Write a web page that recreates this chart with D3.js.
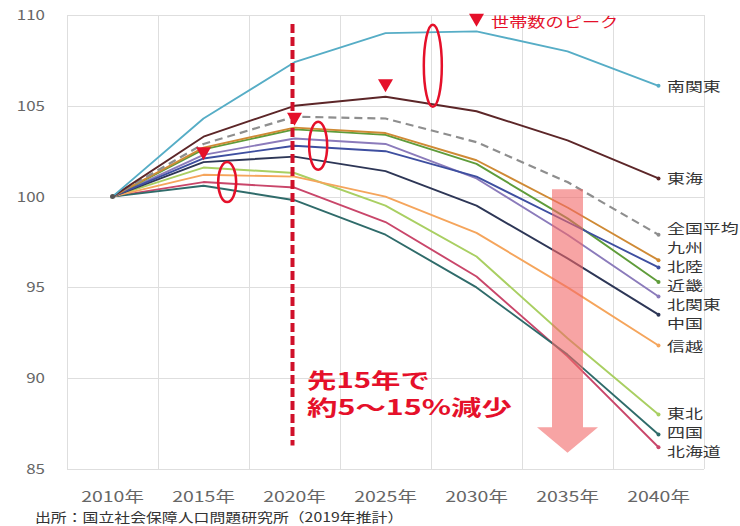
<!DOCTYPE html>
<html>
<head>
<meta charset="utf-8">
<script src="https://cdn.jsdelivr.net/npm/d3@7"></script>
<style>
  html, body { margin: 0; padding: 0; background: #fff; }
  svg { display: block; font-family: "Noto Sans CJK JP", "Noto Sans", sans-serif; }
</style>
</head>
<body>
<svg id="chart" width="740" height="526"></svg>
<script>
  // data (index, 2010 = 100)
  const years = [2010, 2015, 2020, 2025, 2030, 2035, 2040];
  const yearLabels = ["2010年", "2015年", "2020年", "2025年", "2030年", "2035年", "2040年"];
  const yTicks = [85, 90, 95, 100, 105, 110];

  const regions = ["南関東", "東海", "全国平均", "九州", "北陸", "近畿", "北関東", "中国", "信越", "東北", "四国", "北海道"];
  const minamiKanto = [100, 104.3, 107.4, 109.0, 109.1, 108.0, 106.1];
  const tokai       = [100, 103.3, 105.0, 105.5, 104.7, 103.1, 101.0];
  const zenkoku     = [100, 102.9, 104.4, 104.3, 103.0, 100.8, 97.9];
  const kyushu      = [100, 102.7, 103.8, 103.5, 102.0, 99.4, 96.5];
  const hokuriku    = [100, 102.1, 102.8, 102.5, 101.1, 98.6, 96.1];
  const kinki       = [100, 102.6, 103.7, 103.4, 101.8, 98.8, 95.3];
  const kitaKanto   = [100, 102.3, 103.2, 102.9, 101.0, 97.9, 94.5];
  const chugoku     = [100, 101.9, 102.2, 101.4, 99.5, 96.6, 93.5];
  const shinetsu    = [100, 101.2, 101.1, 100.0, 98.0, 95.0, 91.8];
  const tohoku      = [100, 101.6, 101.3, 99.5, 96.7, 92.2, 88.0];
  const shikoku     = [100, 100.6, 99.8, 97.9, 95.0, 91.3, 86.9];
  const hokkaido    = [100, 100.8, 100.5, 98.6, 95.6, 91.2, 86.2];

  const seriesValues = [minamiKanto, tokai, zenkoku, kyushu, hokuriku, kinki,
                        kitaKanto, chugoku, shinetsu, tohoku, shikoku, hokkaido];
  const colors = ["#56adc6", "#5c2628", "#8e8e8e", "#cf8a35", "#3e4fa0", "#5f9c3a",
                  "#8b7bbb", "#2d3656", "#f5a55c", "#a9cf62", "#2f6b6a", "#c9466a"];

  // peak markers and loops (year, value)
  const peakMarks = [[2015, 102.0], [2020, 103.9], [2025, 105.75], [2030, 109.35]];
  const loops = [[2016.3, 100.8, 20], [2021.3, 102.8, 24], [2027.6, 107.2, 41]];

  const red = "#e5102a";
  const stretch = 1.3;

  const svg = d3.select("#chart");
  const plotL = 67, plotR = 704, plotT = 15, plotB = 469;

  const x = d3.scaleBand().domain(years).range([plotL, plotR]).paddingInner(0).paddingOuter(0);
  const bw = x.bandwidth();
  const cx = d => x(d) + bw / 2;
  const xYear = d3.scaleLinear().domain([2010, 2040]).range([cx(2010), cx(2040)]);
  const y = d3.scaleLinear().domain([85, 110]).range([plotB, plotT]);

  function label(g, tx, ty, str, size, anchor, fill, sx, weight) {
    return g.append("text")
      .attr("transform", `translate(${tx},${ty}) scale(${sx || stretch},1)`)
      .attr("text-anchor", anchor)
      .attr("font-size", size)
      .attr("font-weight", weight || "normal")
      .attr("fill", fill)
      .text(str);
  }

  // grid
  const grid = svg.append("g").attr("stroke", "#dedede").attr("stroke-width", 1);
  yTicks.forEach(t => {
    grid.append("line").attr("x1", plotL).attr("x2", plotR)
      .attr("y1", Math.round(y(t)) + 0.5).attr("y2", Math.round(y(t)) + 0.5);
  });
  years.concat([null]).forEach((d, i) => {
    const gx = Math.round(plotL + i * bw) + 0.5;
    grid.append("line").attr("x1", gx).attr("x2", gx).attr("y1", plotT).attr("y2", plotB);
  });

  // axis labels
  const axisG = svg.append("g");
  yTicks.forEach(t => label(axisG, 45, y(t) + 5, t, 13, "end", "#666"));
  years.forEach((d, i) => label(axisG, cx(d), 502, yearLabels[i], 15, "middle", "#666"));

  // lines
  const line = d3.line().x((d, i) => cx(years[i])).y(d => y(d));
  const linesG = svg.append("g").attr("fill", "none");
  seriesValues.slice().reverse().forEach((vals, ri) => {
    const i = seriesValues.length - 1 - ri;
    linesG.append("path")
      .attr("d", line(vals))
      .attr("stroke", colors[i])
      .attr("stroke-width", i === 2 ? 2.2 : 1.9)
      .attr("stroke-dasharray", i === 2 ? "8,5" : null)
      .attr("stroke-linejoin", "round");
    linesG.append("circle")
      .attr("cx", cx(2040)).attr("cy", y(vals[vals.length - 1])).attr("r", 2)
      .attr("fill", colors[i]);
  });
  linesG.append("circle").attr("cx", cx(2010)).attr("cy", y(100)).attr("r", 2.5).attr("fill", "#555");

  // end labels, spread apart so they do not overlap
  const gap = 19;
  let items = regions.map((r, i) => ({ name: r, target: y(seriesValues[i][6]) }))
    .sort((a, b) => a.target - b.target);
  let clusters = items.map(it => ({ members: [it], pos: it.target }));
  let merged = true;
  while (merged) {
    merged = false;
    for (let k = 0; k < clusters.length - 1; k++) {
      const a = clusters[k], b = clusters[k + 1];
      const aEnd = a.pos + (a.members.length - 1) * gap;
      if (b.pos - aEnd < gap) {
        const members = a.members.concat(b.members);
        const mean = d3.mean(members, m => m.target);
        clusters.splice(k, 2, { members, pos: mean - (members.length - 1) * gap / 2 });
        merged = true;
        break;
      }
    }
  }
  const labelG = svg.append("g");
  clusters.forEach(c => c.members.forEach((m, j) => {
    label(labelG, 667, c.pos + j * gap + 5, m.name, 13, "start", "#333", 1.38);
  }));

  // pink arrow
  const ax = cx(2035), shaftW = 31, headW = 61;
  const aTop = y(100.4), aHead = y(87.3), aTip = y(85.9);
  svg.append("path")
    .attr("d", `M${ax - shaftW / 2},${aTop} L${ax + shaftW / 2},${aTop} L${ax + shaftW / 2},${aHead}
      L${ax + headW / 2},${aHead} L${ax},${aTip} L${ax - headW / 2},${aHead} L${ax - shaftW / 2},${aHead} Z`)
    .attr("fill", "#f26868").attr("opacity", 0.6);

  // red dashed 2020 line
  svg.append("line")
    .attr("x1", cx(2020) - 2).attr("x2", cx(2020) - 2)
    .attr("y1", y(109.5)).attr("y2", y(86.3))
    .attr("stroke", "#d0102a").attr("stroke-width", 4).attr("stroke-dasharray", "9,4");

  // peak triangles
  const tri = (px, py) => `M${px - 7.5},${py - 13} L${px + 7.5},${py - 13} L${px},${py} Z`;
  peakMarks.forEach(p => {
    svg.append("path").attr("d", tri(cx(p[0]), y(p[1]))).attr("fill", red);
  });

  // loops
  loops.forEach(l => {
    svg.append("ellipse")
      .attr("cx", xYear(l[0])).attr("cy", y(l[1]))
      .attr("rx", 9).attr("ry", l[2])
      .attr("fill", "none").attr("stroke", red).attr("stroke-width", 2.5);
  });

  // annotations
  label(svg, 491, 27, "世帯数のピーク", 14, "start", red);
  label(svg, 307, 388, "先15年で", 21, "start", red, 1.4, "bold");
  label(svg, 307, 415, "約5～15%減少", 21, "start", red, 1.45, "bold");

  // source
  label(svg, 35, 522, "出所：国立社会保障人口問題研究所（2019年推計）", 13, "start", "#333", 1.22);
</script>
</body>
</html>
